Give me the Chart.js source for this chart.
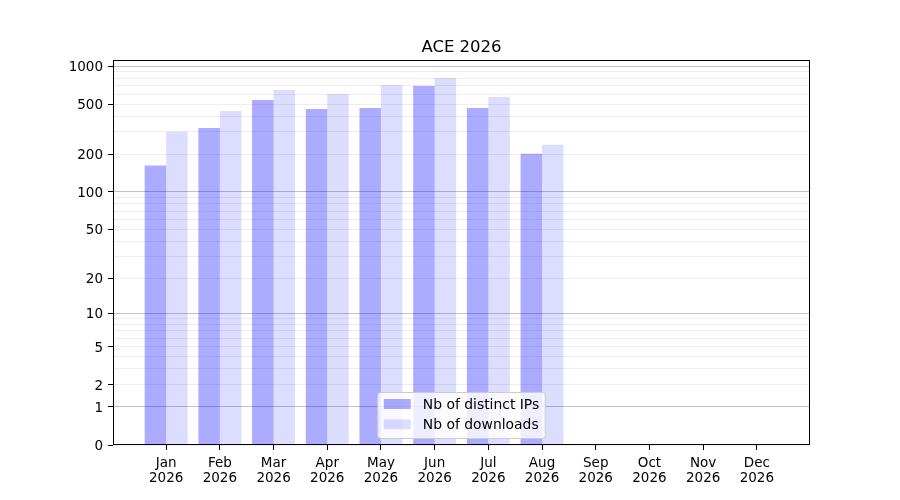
<!DOCTYPE html>
<html>
<head>
<meta charset="utf-8">
<title>ACE 2026</title>
<script src="https://cdn.jsdelivr.net/npm/chart.js@4.4.1/dist/chart.umd.min.js"></script>
<style>
  html, body { margin: 0; padding: 0; background: #fff; }
  #wrap { width: 900px; height: 500px; }
</style>
</head>
<body>
<div id="wrap"><canvas id="chart" width="900" height="500"></canvas></div>
<script>
/* ACE 2026 - monthly distinct IPs / downloads, log(1+x) y axis */

const months = ['Jan','Feb','Mar','Apr','May','Jun','Jul','Aug','Sep','Oct','Nov','Dec'];
const year = '2026';

// Jan..Aug (no data after Aug)
const distinctIPs = [162, 323, 539, 457, 466, 696, 466, 201];
const downloads   = [301, 441, 647, 601, 708, 804, 569, 237];

const yLabelTicks = [0, 1, 2, 5, 10, 20, 50, 100, 200, 500, 1000];
const yMajorGrid  = [1, 10, 100, 1000];
const yMinorGrid  = [2, 3, 4, 5, 6, 7, 8, 9,
                     20, 30, 40, 50, 60, 70, 80, 90,
                     200, 300, 400, 500, 600, 700, 800, 900];

const FONT = "'DejaVu Sans', Verdana, sans-serif";
const toAxis = v => Math.log10(1 + v);

// every y position that gets a tick or a grid line
const yAllTicks = Array.from(new Set([0, ...yLabelTicks, ...yMajorGrid, ...yMinorGrid])).sort((a, b) => a - b);

/* box around the plot area, like matplotlib spines */
const framePlugin = {
  id: 'frame',
  afterDatasetsDraw(chart) {
    const {ctx, chartArea: a} = chart;
    ctx.save();
    ctx.strokeStyle = '#000';
    ctx.lineWidth = 1;
    ctx.strokeRect(Math.round(a.left) + 0.5, Math.round(a.top) + 0.5,
                   Math.round(a.right - a.left) - 1, Math.round(a.bottom - a.top) - 1);
    ctx.restore();
  }
};

/* legend drawn inside the plot, lower center */
const innerLegend = {
  id: 'innerLegend',
  afterDraw(chart) {
    const {ctx, chartArea: a} = chart;
    const sets = chart.data.datasets;
    ctx.save();
    ctx.font = '13.9px ' + FONT;
    const textW = Math.max(...sets.map(d => ctx.measureText(d.label).width));
    const w = 6 + 27 + 12 + textW + 6;
    const h = 46;
    const x = (a.left + a.right) / 2 - w / 2;
    const y = a.bottom - 6.5 - h;

    // rounded frame
    const r = 3;
    ctx.beginPath();
    ctx.moveTo(x + r, y);
    ctx.lineTo(x + w - r, y);
    ctx.arcTo(x + w, y, x + w, y + r, r);
    ctx.lineTo(x + w, y + h - r);
    ctx.arcTo(x + w, y + h, x + w - r, y + h, r);
    ctx.lineTo(x + r, y + h);
    ctx.arcTo(x, y + h, x, y + h - r, r);
    ctx.lineTo(x, y + r);
    ctx.arcTo(x, y, x + r, y, r);
    ctx.closePath();
    ctx.fillStyle = 'rgba(255,255,255,0.8)';
    ctx.fill();
    ctx.strokeStyle = '#cccccc';
    ctx.lineWidth = 1;
    ctx.stroke();

    sets.forEach((d, i) => {
      const cy = y + 11.5 + i * 20.3;
      ctx.fillStyle = d.backgroundColor;
      ctx.fillRect(x + 6, cy - 5, 27, 10);
      ctx.fillStyle = '#000';
      ctx.textBaseline = 'middle';
      ctx.textAlign = 'left';
      ctx.fillText(d.label, x + 6 + 27 + 12, cy + 1);
    });
    ctx.restore();
  }
};

const tickFont = {family: FONT, size: 13.5, lineHeight: 1.12};

new Chart(document.getElementById('chart'), {
  type: 'bar',
  data: {
    datasets: [
      {
        label: 'Nb of distinct IPs',
        data: distinctIPs.map((v, i) => ({x: i, y: toAxis(v)})),
        backgroundColor: 'rgba(0,0,255,0.33)',
        borderWidth: 0,
        categoryPercentage: 0.8,
        barPercentage: 1.0
      },
      {
        label: 'Nb of downloads',
        data: downloads.map((v, i) => ({x: i, y: toAxis(v)})),
        backgroundColor: 'rgba(0,0,255,0.135)',
        borderWidth: 0,
        categoryPercentage: 0.8,
        barPercentage: 1.0
      }
    ]
  },
  options: {
    responsive: false,
    animation: false,
    devicePixelRatio: 1,
    layout: { padding: { left: 0, right: 90, top: 0, bottom: 0 } },
    plugins: {
      legend: { display: false },
      tooltip: { enabled: false },
      title: {
        display: true,
        fullSize: false,
        text: 'ACE 2026',
        color: '#000',
        font: { family: FONT, size: 16.5, weight: 'normal', lineHeight: 1.2 },
        padding: { top: 38, bottom: 2.5 }
      }
    },
    scales: {
      x: {
        type: 'linear',
        min: -0.99,
        max: 11.99,
        offset: false,
        afterBuildTicks: s => { s.ticks = months.map((m, i) => ({value: i})); },
        afterFit: s => { s.height = 55; },
        ticks: {
          autoSkip: false,
          maxRotation: 0,
          color: '#000',
          font: tickFont,
          padding: 6,
          callback: (v, i) => [months[i], year]
        },
        grid: { offset: false, drawOnChartArea: false, drawTicks: true, tickLength: 5, tickColor: '#000' },
        border: { display: false }
      },
      y: {
        type: 'linear',
        min: 0,
        max: toAxis(1111),
        afterBuildTicks: s => { s.ticks = yAllTicks.map(v => ({value: toAxis(v)})); },
        afterFit: s => { s.width = 113; },
        ticks: {
          autoSkip: false,
          color: '#000',
          font: tickFont,
          padding: 5,
          labelOffset: 1.5,
          callback: (v, i) => yLabelTicks.includes(yAllTicks[i]) ? String(yAllTicks[i]) : ''
        },
        grid: {
          tickLength: 5,
          lineWidth: 1,
          color: c => yMajorGrid.includes(yAllTicks[c.index]) ? 'rgba(0,0,0,0.24)' : 'rgba(0,0,0,0.07)',
          tickColor: c => yLabelTicks.includes(yAllTicks[c.index]) ? '#000' : 'rgba(0,0,0,0)'
        },
        border: { display: false }
      }
    }
  },
  plugins: [framePlugin, innerLegend]
});
</script>
</body>
</html>
